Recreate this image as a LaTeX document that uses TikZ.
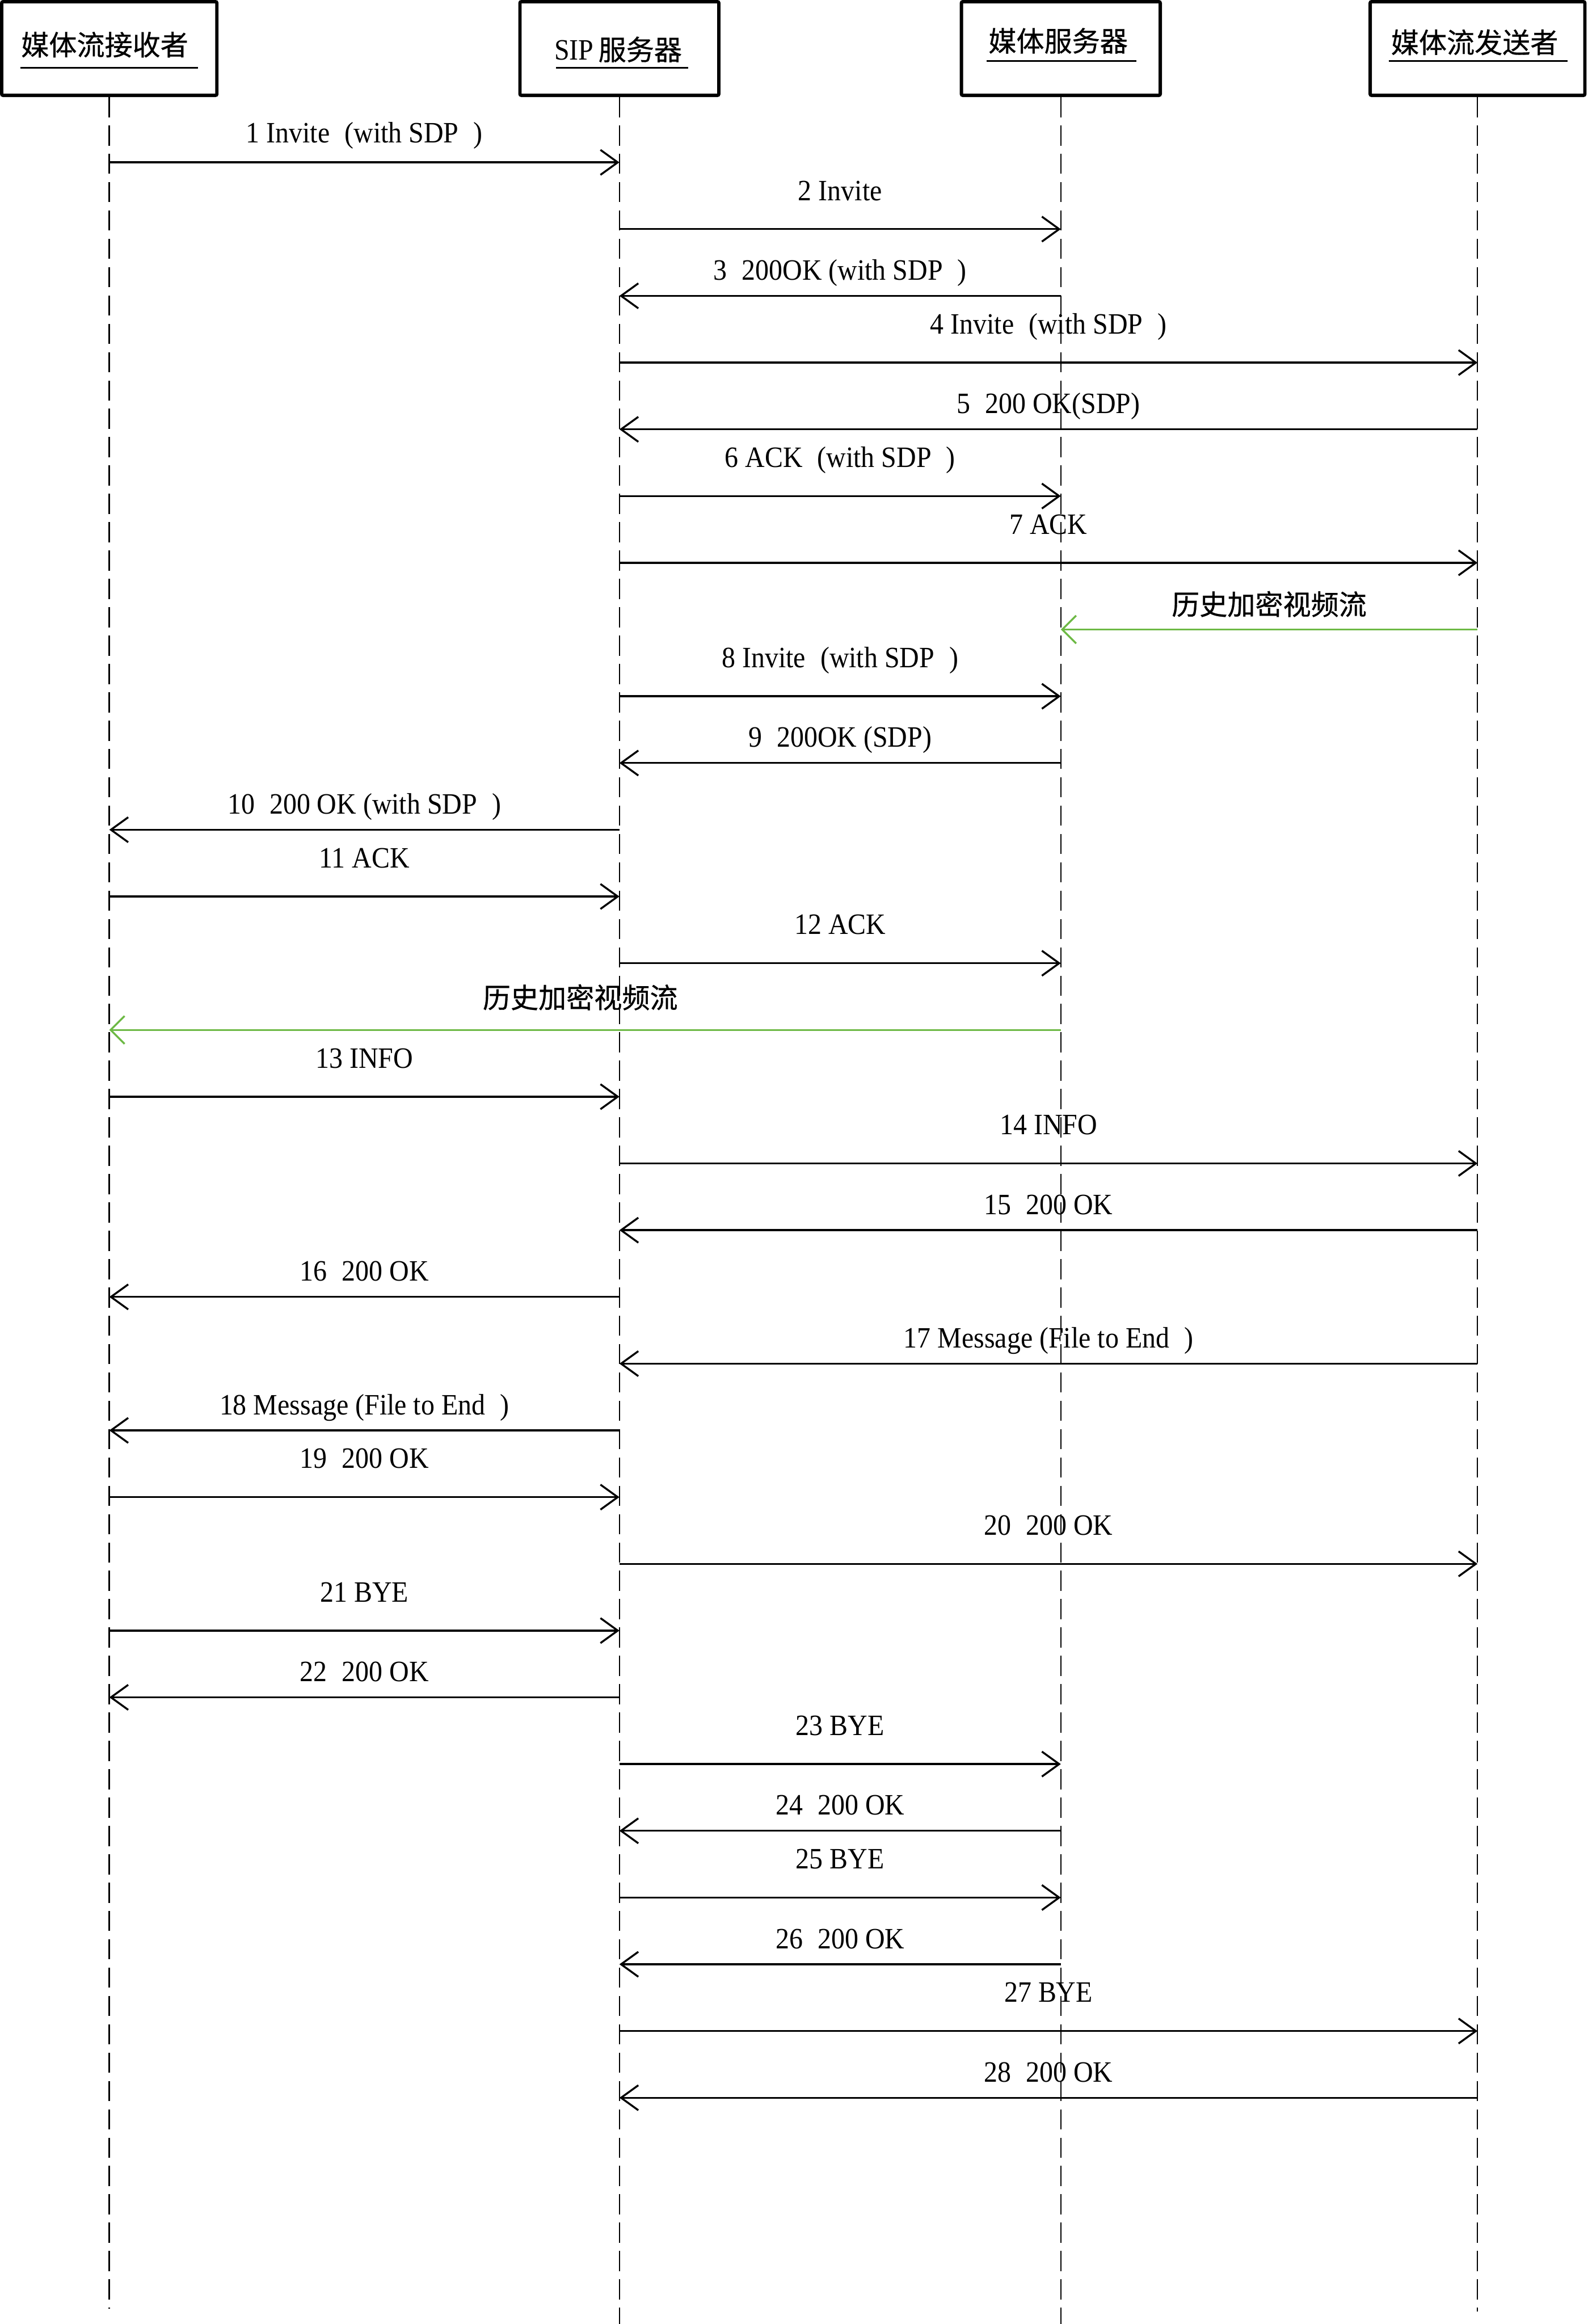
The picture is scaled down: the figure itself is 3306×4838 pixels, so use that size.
\documentclass[tikz,border=0pt]{standalone}
\usepackage{fontspec}
\setmainfont{Liberation Serif}[FakeStretch=0.92]
\newfontfamily\cjk{Noto Sans CJK SC}[FakeBold=0.6]
\usetikzlibrary{arrows.meta}
\definecolor{flowgreen}{RGB}{109,185,69}
\newcommand\seqmsg[6][msg]{%
  \coordinate (m#2s) at (#3,{338+138.93*#2});
  \coordinate (m#2e) at (#4,{338+138.93*#2});
  \draw[#1] (m#2s) -- (m#2e) node[lbl, name=l#2, pos=0.5, yshift=#6*0.1mm] {#5};
}
\begin{document}
\begin{tikzpicture}[x=0.1mm,y=-0.1mm,
  actor/.style={draw, line width=0.7mm, rounded corners=0.3mm, minimum width=41.4mm, minimum height=19.5mm, inner sep=0pt},
  head/.style={inner sep=0pt, font=\cjk\fontsize{16.5}{18}\selectfont},
  uline/.style={line width=0.38mm},
  lifeline/.style={line width=0.28mm, dash pattern=on 4.2mm off 1.7mm},
  msg/.style={line width=0.4mm, -{Straight Barb[length=3.6mm,width=5.2mm]}},
  gmsg/.style={draw=flowgreen, line width=0.4mm, -{Straight Barb[length=2.9mm,width=5.8mm]}},
  lbl/.style={anchor=base, inner sep=0pt, font=\fontsize{17.5}{20}\selectfont},
  glbl/.style={anchor=center, inner sep=0pt, font=\cjk\fontsize{16.5}{18}\selectfont}]
\useasboundingbox (0,0) rectangle (3306,4838);
\def\xA{227.5}\def\xB{1289.5}\def\xC{2208.5}\def\xD{3076}
% actors
\node[actor, minimum width=44.8mm] (A) at (\xA,101) {};
\node[actor] (B) at (\xB,101) {};
\node[actor] (C) at (\xC,101) {};
\node[actor, minimum width=44.7mm] (D) at (\xD,101) {};
\node[head] (At) at (218,93) {媒体流接收者};
\node[head] (Bt) at (1287,103) {{\rmfamily\fontsize{17.5}{20}\selectfont SIP}\,服务器};
\node[head] (Ct) at (2203,85) {媒体服务器};
\node[head] (Dt) at (3070,88) {媒体流发送者};
\draw[uline] (42,141) -- (412,141);
\draw[uline] (1158,141) -- (1433,141);
\draw[uline] (2054,127) -- (2366,127);
\draw[uline] (2891,127) -- (3263,127);
% lifelines
\coordinate (Aend) at (\xA,4806);
\coordinate (Bend) at (\xB,4838);
\coordinate (Cend) at (\xC,4838);
\coordinate (Dend) at (\xD,4812);
\draw[lifeline] (A.south) -- (Aend);
\draw[lifeline] (B.south) -- (Bend);
\draw[lifeline] (C.south) -- (Cend);
\draw[lifeline] (D.south) -- (Dend);
% messages
\seqmsg{0}{\xA}{\xB}{1 Invite\enspace(with SDP\enspace)}{41}
\seqmsg{1}{\xB}{\xC}{2 Invite}{60}
\seqmsg{2}{\xC}{\xB}{3\enspace 200OK (with SDP\enspace)}{33}
\seqmsg{3}{\xB}{\xD}{4 Invite\enspace(with SDP\enspace)}{60}
\seqmsg{4}{\xD}{\xB}{5\enspace 200 OK(SDP)}{33}
\seqmsg{5}{\xB}{\xC}{6 ACK\enspace(with SDP\enspace)}{60}
\seqmsg{6}{\xB}{\xD}{7 ACK}{60}
% green 1
\coordinate (m7s) at (\xD,{338+138.93*7});
\coordinate (m7e) at (\xC,{338+138.93*7});
\draw[gmsg] (m7s) -- (m7e) node[glbl, name=l7, pos=0.5, yshift=5.3mm] {历史加密视频流};
\seqmsg{8}{\xB}{\xC}{8 Invite\enspace(with SDP\enspace)}{60}
\seqmsg{9}{\xC}{\xB}{9\enspace 200OK (SDP)}{33}
\seqmsg{10}{\xB}{\xA}{10\enspace 200 OK (with SDP\enspace)}{33}
\seqmsg{11}{\xA}{\xB}{11 ACK}{60}
\seqmsg{12}{\xB}{\xC}{12 ACK}{60}
% green 2
\coordinate (m13s) at (\xC,{338+138.93*13});
\coordinate (m13e) at (\xA,{338+138.93*13});
\draw[gmsg] (m13s) -- (m13e) node[glbl, name=l13, pos=0.5, yshift=6.8mm, xshift=-1mm] {历史加密视频流};
\seqmsg{14}{\xA}{\xB}{13 INFO}{60}
\seqmsg{15}{\xB}{\xD}{14 INFO}{60}
\seqmsg{16}{\xD}{\xB}{15\enspace 200 OK}{33}
\seqmsg{17}{\xB}{\xA}{16\enspace 200 OK}{33}
\seqmsg{18}{\xD}{\xB}{17 Message (File to End\enspace)}{33}
\seqmsg{19}{\xB}{\xA}{18 Message (File to End\enspace)}{33}
\seqmsg{20}{\xA}{\xB}{19\enspace 200 OK}{60}
\seqmsg{21}{\xB}{\xD}{20\enspace 200 OK}{60}
\seqmsg{22}{\xA}{\xB}{21 BYE}{60}
\seqmsg{23}{\xB}{\xA}{22\enspace 200 OK}{33}
\seqmsg{24}{\xB}{\xC}{23 BYE}{60}
\seqmsg{25}{\xC}{\xB}{24\enspace 200 OK}{33}
\seqmsg{26}{\xB}{\xC}{25 BYE}{60}
\seqmsg{27}{\xC}{\xB}{26\enspace 200 OK}{33}
\seqmsg{28}{\xB}{\xD}{27 BYE}{60}
\seqmsg{29}{\xD}{\xB}{28\enspace 200 OK}{33}
\end{tikzpicture}
\end{document}
